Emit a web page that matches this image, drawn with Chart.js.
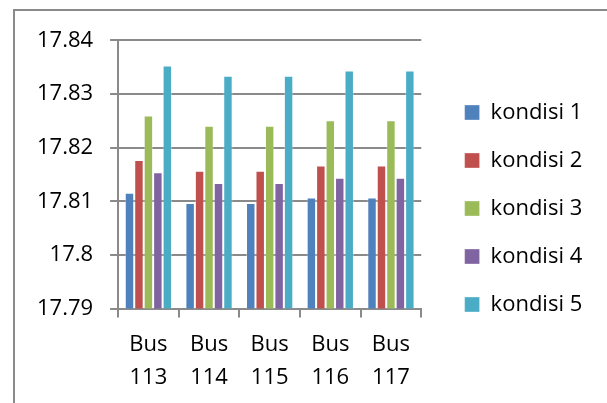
<!DOCTYPE html>
<html>
<head>
<meta charset="utf-8">
<script src="https://cdn.jsdelivr.net/npm/chart.js@4.4.1/dist/chart.umd.min.js"></script>
<style>
  html, body { margin: 0; padding: 0; background: #ffffff; }
  #wrap { position: relative; width: 607px; height: 403px; overflow: hidden; }
  #frame { position: absolute; left: 13px; top: 9px; width: 700px; height: 500px; border: 2px solid #8a8a8a; box-sizing: border-box; }
  #c { position: absolute; left: 0; top: 0; }
</style>
</head>
<body>
<div id="wrap">
  <div id="frame"></div>
  <canvas id="c" width="607" height="403"></canvas>
</div>
<script>
const categories = [["Bus", "113"], ["Bus", "114"], ["Bus", "115"], ["Bus", "116"], ["Bus", "117"]];
const seriesNames = ["kondisi 1", "kondisi 2", "kondisi 3", "kondisi 4", "kondisi 5"];
const kondisi1 = [17.8116, 17.8097, 17.8097, 17.8107, 17.8107];
const kondisi2 = [17.8177, 17.8157, 17.8157, 17.8167, 17.8167];
const kondisi3 = [17.8260, 17.8241, 17.8241, 17.8251, 17.8251];
const kondisi4 = [17.8154, 17.8134, 17.8134, 17.8144, 17.8144];
const kondisi5 = [17.8353, 17.8334, 17.8334, 17.8344, 17.8344];
const yTickValues = [17.79, 17.8, 17.81, 17.82, 17.83, 17.84];
const yTickLabels = ["17.79", "17.8", "17.81", "17.82", "17.83", "17.84"];

const colors = ["#4F81BD", "#C0504D", "#9BBB59", "#8064A2", "#4BACC6"];
const seriesValues = [kondisi1, kondisi2, kondisi3, kondisi4, kondisi5];
const FONT = "'Open Sans', 'DejaVu Sans', sans-serif";
const GRID = "#8a8a8a";

const legendPlace = {
  id: 'legendPlace',
  afterLayout(chart) {
    const lg = chart.legend;
    if (!lg) return;
    const w = chart.width, h = chart.height;
    lg.left = 438.6; lg.right = w; lg.width = lg.right - lg.left;
    lg.top = 75.5; lg.bottom = h; lg.height = lg.bottom - lg.top;
  }
};

new Chart(document.getElementById('c'), {
  type: 'bar',
  data: {
    labels: categories,
    datasets: seriesNames.map((name, i) => ({
      label: name,
      data: seriesValues[i],
      backgroundColor: colors[i],
      borderColor: 'rgba(255,255,255,0.35)',
      borderWidth: 1,
      categoryPercentage: 0.78,
      barPercentage: 1.0
    }))
  },
  options: {
    responsive: false,
    animation: false,
    devicePixelRatio: 1,
    layout: { padding: { left: 20, right: 52, top: 40.4, bottom: -2 } },
    plugins: {
      tooltip: { enabled: false },
      legend: {
        position: 'right',
        align: 'start',
        labels: {
          boxWidth: 15,
          boxHeight: 15,
          padding: 26,
          color: '#000000',
          font: { family: FONT, size: 22 }
        }
      }
    },
    scales: {
      x: {
        grid: {
          display: true,
          drawOnChartArea: false,
          drawTicks: true,
          offset: true,
          tickLength: 9,
          color: GRID,
          lineWidth: 2
        },
        border: { display: true, color: GRID, width: 2 },
        ticks: {
          color: '#000000',
          font: { family: FONT, size: 22, lineHeight: 1.5 },
          padding: 10.7,
          maxRotation: 0,
          autoSkip: false
        }
      },
      y: {
        min: 17.79,
        max: 17.84,
        afterBuildTicks(scale) {
          scale.ticks = yTickValues.map(v => ({ value: v }));
        },
        grid: {
          color: GRID,
          lineWidth: 2,
          tickLength: 8,
          drawTicks: true
        },
        border: { display: true, color: GRID, width: 2 },
        ticks: {
          color: '#000000',
          font: { family: FONT, size: 22, lineHeight: 1.2 },
          padding: 17,
          callback: (v, i) => yTickLabels[yTickValues.indexOf(v)] ?? String(v)
        }
      }
    }
  },
  plugins: [legendPlace]
});
</script>
</body>
</html>
